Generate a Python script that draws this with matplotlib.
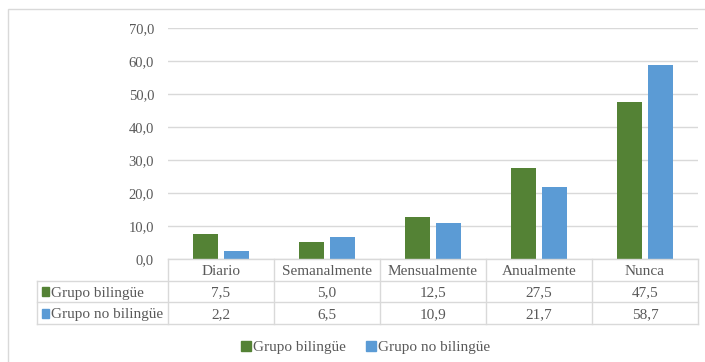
import matplotlib
matplotlib.use("Agg")
import matplotlib.pyplot as plt
from matplotlib.patches import Rectangle
from matplotlib.lines import Line2D
import numpy as np

categories = ["Diario", "Semanalmente", "Mensualmente", "Anualmente", "Nunca"]
series_names = ["Grupo bilingüe", "Grupo no bilingüe"]
bilingue = [7.5, 5.0, 12.5, 27.5, 47.5]
no_bilingue = [2.2, 6.5, 10.9, 21.7, 58.7]
yticks = [0, 10, 20, 30, 40, 50, 60, 70]

colors = ["#548235", "#5B9BD5"]
text_color = "#595959"
grid_color = "#D9D9D9"
font = "Liberation Serif"

W, H = 705, 362
fig = plt.figure(figsize=(W / 100, H / 100), dpi=100)


def fx(px):
    return px / W


def fy(py):
    return 1 - py / H


# outer chart frame
fig.patches.append(Rectangle((fx(8), fy(370)), fx(720) - fx(8), fy(9) - fy(370),
                             transform=fig.transFigure, fill=False,
                             edgecolor=grid_color, linewidth=1.0))

# plot area
left_px, right_px, top_px, bottom_px = 168, 698, 27.7, 258.7
ax = fig.add_axes([fx(left_px), fy(bottom_px), fx(right_px) - fx(left_px),
                   fy(top_px) - fy(bottom_px)])
x = np.arange(len(categories))
bw = 0.235
gap = 0.057
ax.bar(x - (bw + gap) / 2, bilingue, bw, color=colors[0], zorder=3)
ax.bar(x + (bw + gap) / 2, no_bilingue, bw, color=colors[1], zorder=3)
ax.set_xlim(-0.5, len(categories) - 0.5)
ax.set_ylim(0, 70)
ax.set_yticks(yticks)
ax.set_yticklabels([f"{v:.1f}".replace(".", ",") for v in yticks],
                   fontfamily=font, fontsize=10.5, color=text_color)
ax.tick_params(axis="y", length=0, pad=10)
ax.set_xticks([])
ax.yaxis.grid(True, color=grid_color, linewidth=1.0, zorder=0)
for s in ax.spines.values():
    s.set_visible(False)
ax.patch.set_alpha(0)

# data table under the plot area
tl_px, tt_px, tb_px = 37, 259, 324
label_units = (left_px - tl_px) / ((right_px - left_px) / len(categories))
tax = fig.add_axes([fx(tl_px), fy(tb_px), fx(right_px) - fx(tl_px), fy(tt_px) - fy(tb_px)])
tax.set_xlim(-0.5 - label_units, len(categories) - 0.5)
tax.set_ylim(3, 0)
tax.axis("off")
x0 = -0.5 - label_units
xe = len(categories) - 0.5
lk = dict(color=grid_color, linewidth=1.0, clip_on=False)
tax.plot([-0.5, xe], [0, 0], **lk)
for r in (1, 2, 3):
    tax.plot([x0, xe], [r, r], **lk)
tax.plot([x0, x0], [1, 3], **lk)
for c in range(len(categories) + 1):
    tax.plot([c - 0.5, c - 0.5], [0, 3], **lk)

tk = dict(fontfamily=font, fontsize=11, color=text_color, ha="center", va="center_baseline")
for i, cat in enumerate(categories):
    tax.text(i, 0.5, cat, **tk)
for r, (vals, name, col) in enumerate(zip([bilingue, no_bilingue], series_names, colors), start=1):
    for i, v in enumerate(vals):
        tax.text(i, r + 0.5, f"{v:.1f}".replace(".", ","), **tk)
    tax.add_patch(Rectangle((x0 + 0.05, r + 0.3), 0.065, 0.4, color=col, clip_on=False))
    tax.text(x0 + 0.135, r + 0.5, name, fontfamily=font, fontsize=11,
             color=text_color, ha="left", va="center_baseline")

# legend
handles = [Line2D([], [], marker="s", linestyle="none", markersize=6.5,
                  markerfacecolor=c, markeredgecolor=c) for c in colors]
leg = fig.legend(handles, series_names, loc="center", bbox_to_anchor=(fx(365), fy(347)),
                 ncol=2, frameon=False, handletextpad=0.05, columnspacing=1.2,
                 handlelength=0.8, prop={"family": font, "size": 11})
for t in leg.get_texts():
    t.set_color(text_color)

fig.savefig("out.png", dpi=100)
